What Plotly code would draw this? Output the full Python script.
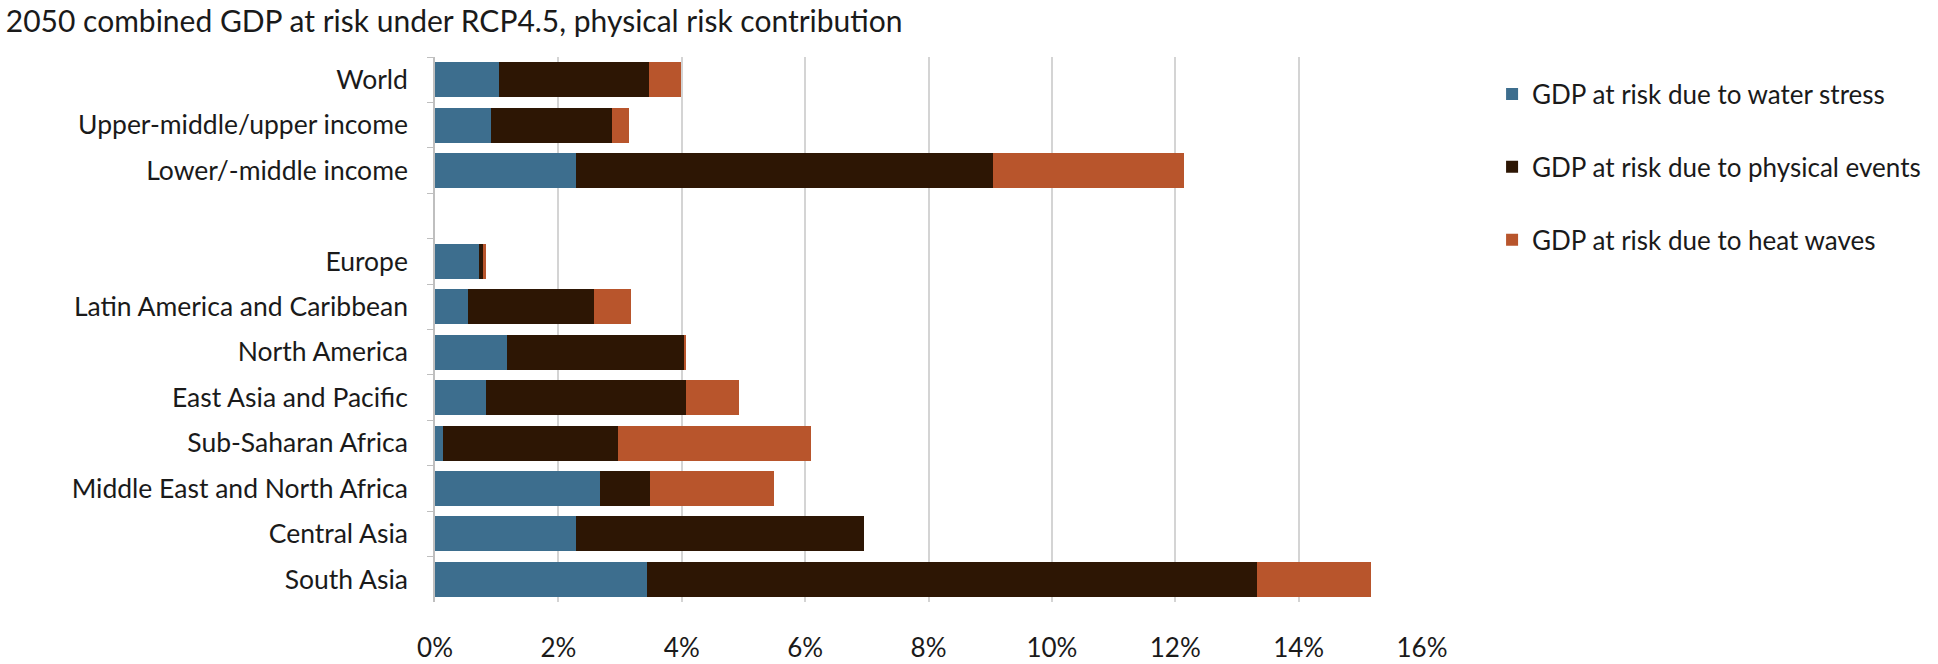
import plotly.graph_objects as go

categories = ["World", "Upper-middle/upper income", "Lower/-middle income", " ",
              "Europe", "Latin America and Caribbean", "North America",
              "East Asia and Pacific", "Sub-Saharan Africa",
              "Middle East and North Africa", "Central Asia", "South Asia"]
water_stress = [1.03, 0.90, 2.28, None, 0.72, 0.53, 1.17, 0.83, 0.13, 2.68, 2.29, 3.44]
physical_events = [2.44, 1.97, 6.77, None, 0.05, 2.04, 2.86, 3.24, 2.83, 0.80, 4.67, 9.89]
heat_waves = [0.52, 0.27, 3.09, None, 0.06, 0.61, 0.04, 0.86, 3.14, 2.02, 0.0, 1.85]
series_names = ["GDP at risk due to water stress",
                "GDP at risk due to physical events",
                "GDP at risk due to heat waves"]
x_ticks = [0, 2, 4, 6, 8, 10, 12, 14, 16]
x_tick_labels = [f"{t}%" for t in x_ticks]

colors = ["#3D6E8E", "#2D1604", "#B8552C"]
FONT = "Lato, Carlito, sans-serif"

fig = go.Figure()
for name, vals, col in zip(series_names, [water_stress, physical_events, heat_waves], colors):
    fig.add_trace(go.Bar(
        y=categories, x=vals, name=name, orientation="h",
        marker=dict(color=col, line=dict(width=0)),
        legendgroup=name,
    ))

fig.update_layout(
    barmode="stack",
    bargap=0.23,
    width=1938, height=664,
    margin=dict(l=435, r=513, t=57, b=62),
    paper_bgcolor="white", plot_bgcolor="white",
    font=dict(family=FONT, color="#1a1a1a"),
    title=dict(text="2050 combined GDP at risk under RCP4.5, physical risk contribution",
               x=0.003, xanchor="left", y=0.967, yanchor="middle",
               font=dict(size=30, family=FONT, color="#1a1a1a")),
    legend=dict(x=1.071, xanchor="left", y=0.975, yanchor="top",
                traceorder="grouped", tracegroupgap=36,
                font=dict(size=26, family=FONT, color="#1a1a1a"),
                itemwidth=30),
    showlegend=True,
)
fig.update_xaxes(range=[0, 16], tickvals=x_ticks, ticktext=x_tick_labels,
                 showgrid=True, gridcolor="#D4D4D4", gridwidth=1.5,
                 zeroline=False, showline=False, ticks="",
                 ticklabelstandoff=28, automargin=False,
                 tickfont=dict(size=26, family=FONT, color="#1a1a1a"))
fig.update_yaxes(range=[11.5, -0.5], type="category", automargin=False,
                 showline=True, linecolor="#BFBFBF", linewidth=1.5,
                 ticks="outside", tickson="boundaries", ticklen=6, tickcolor="#BFBFBF",
                 ticklabelstandoff=20,
                 tickfont=dict(size=26.5, family=FONT, color="#1a1a1a"))

fig.write_html("out.html")
